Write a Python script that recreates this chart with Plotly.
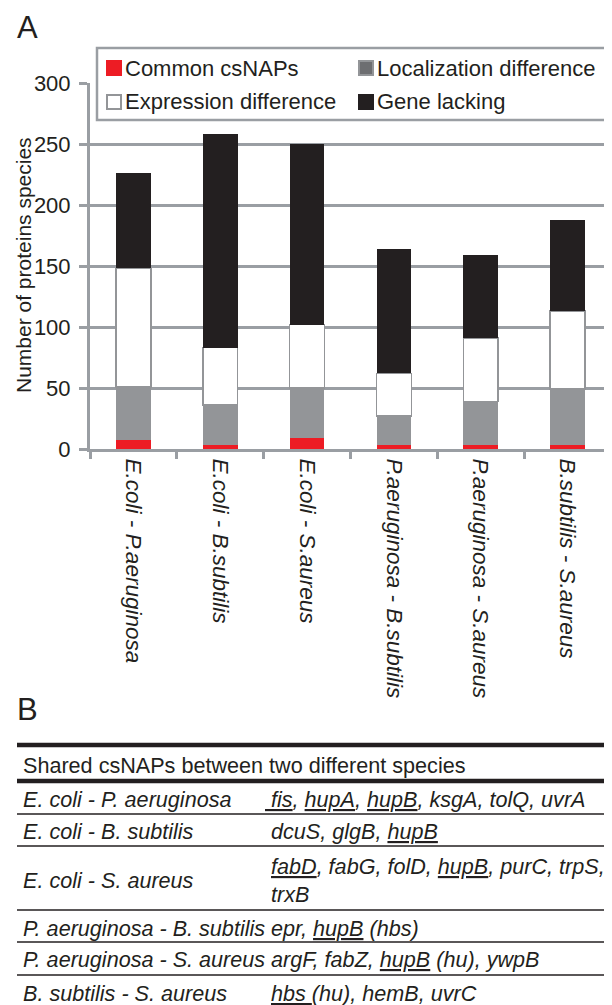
import plotly.graph_objects as go

# ---------------- data ----------------
categories = ["E.coli - P.aeruginosa", "E.coli - B.subtilis", "E.coli - S.aureus",
              "P.aeruginosa - B.subtilis", "P.aeruginosa - S.aureus", "B.subtilis - S.aureus"]
series_names = ["Common csNAPs", "Localization difference", "Expression difference", "Gene lacking"]
common_csnaps = [7, 3, 9, 3, 3, 3]
localization_diff = [44, 33, 41, 24, 36, 46]
expression_diff = [97, 47, 52, 35, 52, 64]
gene_lacking = [78, 175, 148, 102, 68, 75]

y_ticks = [0, 50, 100, 150, 200, 250, 300]
y_title = "Number of proteins species"

table_header = "Shared csNAPs between two different species"
table_pairs = ["E. coli - P. aeruginosa", "E. coli - B. subtilis", "E. coli - S. aureus",
               "P. aeruginosa - B. subtilis", "P. aeruginosa - S. aureus", "B. subtilis - S. aureus"]
table_genes = ["<u> fis</u>, <u>hupA</u>, <u>hupB</u>, ksgA, tolQ, uvrA",
               "dcuS, glgB, <u>hupB</u>",
               "<u>fabD</u>, fabG, folD, <u>hupB</u>, purC, trpS,<br>trxB",
               "epr, <u>hupB</u> (hbs)",
               "argF, fabZ, <u>hupB</u> (hu), ywpB",
               "<u>hbs </u>(hu), hemB, uvrC"]

# ---------------- style ----------------
FONT = "Liberation Sans, Arial, sans-serif"
TXT = "#231f20"
GRID = "#9a9ea3"
RED, GRAY, BLACK, OUT = "#ed1c24", "#939598", "#231f20", "#939598"
series_fill = [RED, GRAY, "white", BLACK]
series_line = [RED, GRAY, OUT, BLACK]
legend_fill = [RED, "#6d6e71", "white", BLACK]
legend_line = [RED, GRAY, OUT, BLACK]

OFF = 8  # page body margin
W, H = 604, 997
ML, MR, MT, MB = 82, 1, 75, 556
PW, PH = W - ML - MR, H - MT - MB


def px(xp):
    return (xp - OFF - ML) / PW


def py(yp):
    return (H - MB - (yp - OFF)) / PH


fig = go.Figure()
for name, vals, fc, lc in zip(series_names,
                              [common_csnaps, localization_diff, expression_diff, gene_lacking],
                              series_fill, series_line):
    fig.add_trace(go.Bar(x=categories, y=vals, name=name, showlegend=False,
                         marker=dict(color=fc,
                                     line=dict(color=lc, width=1.5 if fc == "white" else 0))))

annotations = [
    dict(text="A", x=px(15), y=py(27), xref="paper", yref="paper", xanchor="left",
         yanchor="middle", showarrow=False, font=dict(size=31, color=TXT, family=FONT)),
    dict(text="B", x=px(15), y=py(709), xref="paper", yref="paper", xanchor="left",
         yanchor="middle", showarrow=False, font=dict(size=31, color=TXT, family=FONT)),
    dict(text=y_title, x=px(23), y=py(265), xref="paper", yref="paper", textangle=-90,
         xanchor="center", yanchor="middle", showarrow=False,
         font=dict(size=21, color=TXT, family=FONT)),
    dict(text=table_header, x=px(21), y=py(765), xref="paper", yref="paper",
         xanchor="left", yanchor="middle", showarrow=False,
         font=dict(size=21.6, color=TXT, family=FONT)),
]
row_y = [799, 832, 880, 928, 959, 993]
for i, (pair, genes) in enumerate(zip(table_pairs, table_genes)):
    annotations.append(dict(text=pair, x=px(21), y=py(row_y[i]), xref="paper", yref="paper",
                            xanchor="left", yanchor="middle", showarrow=False,
                            font=dict(size=21.6, color=TXT, family=FONT, style="italic")))
    gx = 263 if i == 0 else 269
    annotations.append(dict(text=genes, x=px(gx), y=py(row_y[i]), xref="paper", yref="paper",
                            xanchor="left", yanchor="middle", align="left", showarrow=False,
                            font=dict(size=21.6, color=TXT, family=FONT, style="italic")))

shapes = []
# table rules
for yl, wl in [(745, 4.5), (781, 4.5), (814, 1.5), (846, 1.5), (910, 1.5), (942, 1.5), (975, 1.5)]:
    shapes.append(dict(type="line", xref="paper", yref="paper", x0=px(17), x1=px(614),
                       y0=py(yl), y1=py(yl), line=dict(color=TXT, width=wl)))

# legend box (drawn manually to match the reference layout)
shapes.append(dict(type="rect", xref="paper", yref="paper", x0=px(97), x1=px(610),
                   y0=py(120), y1=py(48), fillcolor="white", line=dict(color=GRID, width=2.5)))
leg_pos = [(106, 68), (358, 68), (106, 102), (358, 102)]
for (lx, ly), name, fc, lc in zip(leg_pos, series_names, legend_fill, legend_line):
    shapes.append(dict(type="rect", xref="paper", yref="paper", x0=px(lx + 1), x1=px(lx + 15),
                       y0=py(ly + 7), y1=py(ly - 7), fillcolor=fc,
                       line=dict(color=lc, width=2)))
    annotations.append(dict(text=name, x=px(lx + 17), y=py(ly), xref="paper", yref="paper",
                            xanchor="left", yanchor="middle", showarrow=False,
                            font=dict(size=22, color=TXT, family=FONT)))

fig.update_layout(
    width=W, height=H,
    margin=dict(l=ML, r=MR, t=MT, b=MB, autoexpand=False),
    paper_bgcolor="white", plot_bgcolor="white",
    barmode="stack", bargap=0.6,
    font=dict(family=FONT, size=21, color=TXT),
    showlegend=False,
    xaxis=dict(type="category", showline=True, linecolor=GRID, linewidth=3,
               ticks="outside", tickson="boundaries", ticklen=7, tickwidth=3, tickcolor=GRID,
               tickangle=90, ticklabelstandoff=2,
               tickfont=dict(size=22.5, style="italic", color=TXT, family=FONT),
               showgrid=False, automargin=False),
    yaxis=dict(range=[0, 300], tickvals=y_ticks, showline=True, linecolor=GRID, linewidth=3,
               ticks="outside", ticklen=8, tickwidth=3, tickcolor=GRID, ticklabelstandoff=4,
               showgrid=True, gridcolor=GRID, gridwidth=3, zeroline=False,
               tickfont=dict(size=22, color=TXT, family=FONT),
               automargin=False),
    annotations=annotations,
    shapes=shapes,
)

fig.write_html("out.html")
